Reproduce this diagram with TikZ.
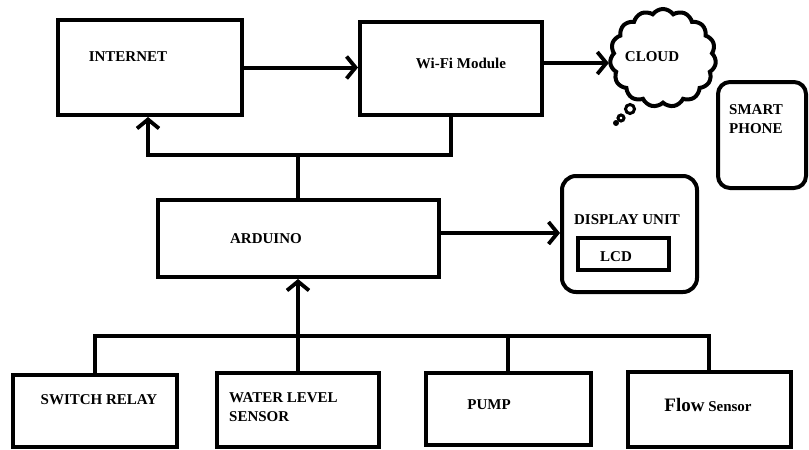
\documentclass[tikz,border=0pt]{standalone}
\usepackage{fontspec}
\setmainfont{Liberation Serif}
\usetikzlibrary{arrows.meta,shapes.symbols}
\begin{document}
\begin{tikzpicture}[x=1pt,y=-1pt,
  ln/.style={line width=4pt},
  arr/.style={ln,-{Straight Barb[length=9pt,width=22pt,line width=3.8pt]}},
  box/.style={draw,ln,inner sep=0pt},
  rbox/.style={box,rounded corners=14pt},
  txt/.style={inner sep=0pt,font=\fontsize{15}{19}\selectfont\bfseries}
]
\useasboundingbox (0,0) rectangle (809,450);
% boxes
\node[box,minimum width=184pt,minimum height=95pt] (internet) at (150,67.5) {};
\node[box,minimum width=182pt,minimum height=93pt] (wifi) at (451,68.5) {};
\node[box,minimum width=281pt,minimum height=77pt] (arduino) at (298,238.5) {};
\node[rbox,minimum width=135pt,minimum height=116pt] (display) at (629.5,234) {};
\node[box,minimum width=91pt,minimum height=32pt] (lcd) at (623.5,254) {};
\node[rbox,rounded corners=12pt,minimum width=88pt,minimum height=106pt] (phone) at (762,135) {};
\node[box,minimum width=164pt,minimum height=72pt] (sw) at (95,411) {};
\node[box,minimum width=162pt,minimum height=74pt] (wl) at (298,410) {};
\node[box,minimum width=165pt,minimum height=72pt] (pump) at (508,409) {};
\node[box,minimum width=163pt,minimum height=75pt] (flow) at (709,409.5) {};
% cloud
\node[cloud,draw,ln,cloud puffs=15,cloud puff arc=110,aspect=1.1,
      minimum width=106pt,minimum height=98pt,inner sep=0pt] (cloud) at (663,58) {};
\node[circle,draw,line width=3pt,minimum size=9pt,inner sep=0pt] (b1) at (630,109) {};
\node[circle,draw,line width=3pt,minimum size=6pt,inner sep=0pt] (b2) at (621,118) {};
\node[circle,fill,minimum size=6pt,inner sep=0pt] (b3) at (616,123) {};
% texts
\node[txt] (tinternet) at (128,57) {INTERNET};
\node[txt] (twifi) at (461,63) {Wi-Fi Module};
\node[txt] (tcloud) at (652,57) {CLOUD};
\node[txt,align=left,anchor=west] (tphone) at (729,119) {SMART\\PHONE};
\node[txt] (tarduino) at (266,239) {ARDUINO};
\node[txt] (tdisplay) at (627,220) {DISPLAY UNIT};
\node[txt] (tlcd) at (616,257) {LCD};
\node[txt] (tsw) at (99,400) {SWITCH RELAY};
\node[txt,align=left,anchor=west] (twl) at (229,407.5) {WATER LEVEL\\SENSOR};
\node[txt] (tpump) at (489,405) {PUMP};
\node[txt] (tflow) at (708,405) {{\fontsize{19}{22}\selectfont Flow} Sensor};
% connectors
\coordinate (j) at (298,155);
\coordinate (ib) at (148,155);
\coordinate (bus) at (0,336);
\draw[arr] (internet.east) -- (internet.east -| wifi.west);
\draw[arr] (wifi.east |- 0,63) -- (cloud.west |- 0,63);
\draw[arr] (wifi.south) |- (ib) -- (ib |- internet.south);
\draw[ln] (arduino.north) -- (arduino.north |- j);
\draw[arr] (arduino.east |- 0,233) -- (display.west |- 0,233);
\draw[ln] (sw.north) |- (bus -| flow.north) -- (flow.north);
\draw[ln] (pump.north) -- (pump.north |- bus);
\draw[arr] (wl.north) -- (arduino.south);
\end{tikzpicture}
\end{document}
